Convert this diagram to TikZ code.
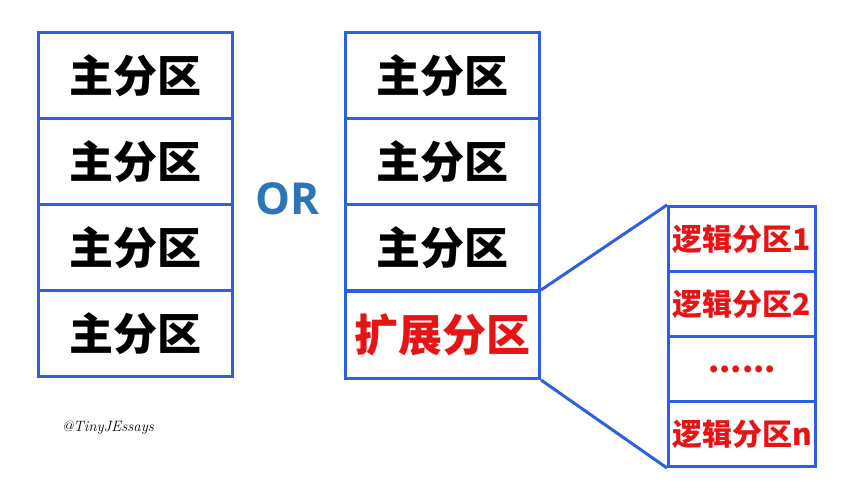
\documentclass[tikz,border=0pt]{standalone}
\usepackage{fontspec}
\newfontfamily\cjk{Noto Sans CJK SC Black}
\newfontfamily\orfont{Open Sans}
\definecolor{boxblue}{RGB}{45,95,225}
\definecolor{ortext}{RGB}{46,117,182}
\definecolor{redtext}{RGB}{230,20,20}
\begin{document}
\begin{tikzpicture}[x=1pt,y=-1pt,
  cell/.style={draw=boxblue,line width=3pt,minimum width=194pt,minimum height=86pt,inner sep=0pt,anchor=north west,font=\cjk\fontsize{44}{44}\selectfont},
  lcell/.style={draw=boxblue,line width=3pt,minimum width=147pt,minimum height=65pt,inner sep=0pt,anchor=north west,text=redtext,font=\cjk\fontsize{30}{30}\selectfont},
  link/.style={draw=boxblue,line width=3pt}]
\useasboundingbox (0,0) rectangle (844,500);
% left column
\node[cell] (a1) at (37,31) {主分区};
\node[cell] (a2) at (37,117) {主分区};
\node[cell] (a3) at (37,203) {主分区};
\node[cell] (a4) at (37,289) {主分区};
% OR
\node[text=ortext,font=\orfont\bfseries\fontsize{44}{44}\selectfont] (or) at (288,199) {OR};
% middle column
\node[cell] (b1) at (344,31) {主分区};
\node[cell] (b2) at (344,117) {主分区};
\node[cell] (b3) at (344,203) {主分区};
\node[cell,text=redtext,minimum height=87pt] (ext) at (344,290) {扩展分区};
% right column
\node[lcell] (l1) at (667,205) {逻辑分区1};
\node[lcell] (l2) at (667,270) {逻辑分区2};
\node[lcell] (l3) at (667,335) {};
\node[text=redtext,font=\cjk\fontsize{32}{32}\selectfont] (dots) at (l3.center) {......};
\node[lcell] (l4) at (667,400) {逻辑分区n};
% connectors
\draw[link] (ext.north east) -- (l1.north west);
\draw[link] (ext.south east) -- (l4.south west);
% watermark
\node[font=\itshape\fontsize{15}{15}\selectfont] (wm) at (108,428) {@TinyJEssays};
\end{tikzpicture}
\end{document}
